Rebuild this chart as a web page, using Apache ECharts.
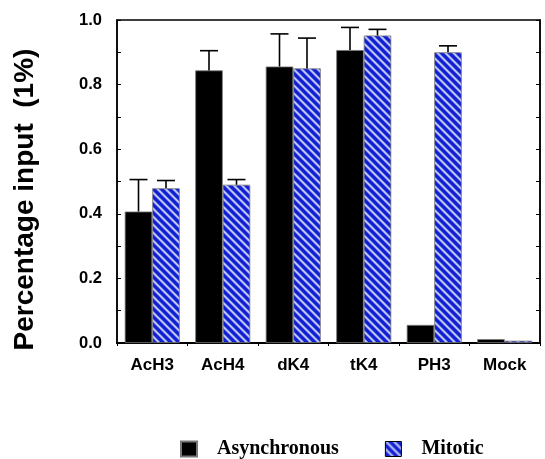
<!DOCTYPE html>
<html>
<head>
<meta charset="utf-8">
<script src="https://cdn.jsdelivr.net/npm/echarts@6/dist/echarts.min.js"></script>
<style>html,body{margin:0;padding:0;background:#fff}#c{width:545px;height:459px}</style>
</head>
<body>
<div id="c"></div>
<script>
const categories = ['AcH3', 'AcH4', 'dK4', 'tK4', 'PH3', 'Mock'];
const asyncVals = [0.407, 0.844, 0.856, 0.907, 0.056, 0.012];
const asyncErrTop = [0.506, 0.905, 0.957, 0.977, null, null];
const mitoticVals = [0.479, 0.490, 0.850, 0.952, 0.900, 0.007];
const mitoticErrTop = [0.503, 0.506, 0.944, 0.971, 0.920, null];
const yTicks = [0, 0.2, 0.4, 0.6, 0.8, 1.0];

function makePattern() {
  const s = 8;
  const cv = document.createElement('canvas');
  cv.width = s; cv.height = s;
  const ctx = cv.getContext('2d');
  const img = ctx.createImageData(s, s);
  const blue = [18, 34, 210], light = [190, 196, 246], mid = [105, 116, 232];
  for (let y = 0; y < s; y++) {
    for (let x = 0; x < s; x++) {
      const d = (((x - y) % s) + s) % s;
      const c = (d === 0 || d === 1) ? light : (d === 2 || d === s - 1) ? mid : blue;
      const i = (y * s + x) * 4;
      img.data[i] = c[0]; img.data[i + 1] = c[1]; img.data[i + 2] = c[2]; img.data[i + 3] = 255;
    }
  }
  ctx.putImageData(img, 0, 0);
  return cv;
}
const hatch = { image: makePattern(), repeat: 'repeat' };

const GAP = 0.22;
function errSeries(vals, tops, side) {
  const data = [];
  vals.forEach((v, i) => { if (tops[i] != null) data.push([i, v, tops[i]]); });
  return {
    type: 'custom',
    silent: true,
    z: 5,
    renderItem: function (params, api) {
      const band = api.size([1, 0])[0];
      const off = side * band * (1 - GAP) / 4;
      const b = api.coord([api.value(0), api.value(1)]);
      const t = api.coord([api.value(0), api.value(2)]);
      const x = b[0] + off;
      const cap = 9;
      return {
        type: 'group',
        children: [
          { type: 'line', shape: { x1: x, y1: b[1], x2: x, y2: t[1] }, style: { stroke: '#000', lineWidth: 1.6 } },
          { type: 'line', shape: { x1: x - cap, y1: t[1], x2: x + cap, y2: t[1] }, style: { stroke: '#000', lineWidth: 1.6 } }
        ]
      };
    },
    data: data
  };
}

const chart = echarts.init(document.getElementById('c'), null, { renderer: 'canvas' });
chart.setOption({
  animation: false,
  backgroundColor: '#fff',
  grid: { left: 117, right: 5, top: 20, bottom: 116, show: true, borderColor: '#000', borderWidth: 1.5, backgroundColor: 'transparent' },
  legend: {
    data: [
      { name: 'Asynchronous' },
      { name: 'Mitotic', itemStyle: { color: hatch, borderColor: '#000', borderWidth: 1 } }
    ],
    left: 175, top: 434,
    itemWidth: 16, itemHeight: 15, itemGap: 46,
    icon: 'rect',
    textStyle: { fontFamily: 'Liberation Serif', fontWeight: 'bold', fontSize: 20, color: '#000', padding: [0, 0, 0, 15] }
  },
  xAxis: {
    type: 'category',
    data: categories,
    axisLine: { lineStyle: { color: '#000', width: 2 } },
    axisTick: { show: true, inside: false, length: 3, lineStyle: { color: '#000' } },
    axisLabel: { color: '#000', fontFamily: 'Liberation Sans', fontWeight: 'bold', fontSize: 17, margin: 14 }
  },
  yAxis: [
    {
      type: 'value', min: 0, max: 1, interval: 0.2,
      name: 'Percentage input  (1%)',
      nameLocation: 'middle', nameGap: 78,
      nameTextStyle: { color: '#000', fontFamily: 'Liberation Sans', fontWeight: 'bold', fontSize: 28, padding: [0, 36, 0, 0] },
      axisLine: { show: true, lineStyle: { color: '#000', width: 1.5 } },
      axisTick: { show: true, inside: true, length: 4, lineStyle: { color: '#000' } },
      minorTick: { show: true, splitNumber: 2, length: 4, lineStyle: { color: '#000' } },
      splitLine: { show: false },
      axisLabel: { color: '#000', fontFamily: 'Liberation Sans', fontWeight: 'bold', fontSize: 16.5, margin: 15, formatter: v => yTicks.includes(+v.toFixed(1)) ? v.toFixed(1) : '' }
    },
    {
      type: 'value', min: 0, max: 1, interval: 0.2, position: 'right',
      axisLine: { show: true, lineStyle: { color: '#000', width: 1.5 } },
      axisTick: { show: true, inside: true, length: 4, lineStyle: { color: '#000' } },
      minorTick: { show: true, splitNumber: 2, length: 4, lineStyle: { color: '#000' } },
      splitLine: { show: false },
      axisLabel: { show: false }
    }
  ],
  series: [
    {
      name: 'Asynchronous', type: 'bar', data: asyncVals,
      barGap: '0%', barCategoryGap: (GAP * 100) + '%',
      itemStyle: { color: '#000', borderColor: '#777', borderWidth: 0.8 }
    },
    {
      name: 'Mitotic', type: 'bar', data: mitoticVals,
      itemStyle: { color: hatch, borderColor: '#777', borderWidth: 0.8 }
    },
    errSeries(asyncVals, asyncErrTop, -1),
    errSeries(mitoticVals, mitoticErrTop, 1)
  ]
});
</script>
</body>
</html>
